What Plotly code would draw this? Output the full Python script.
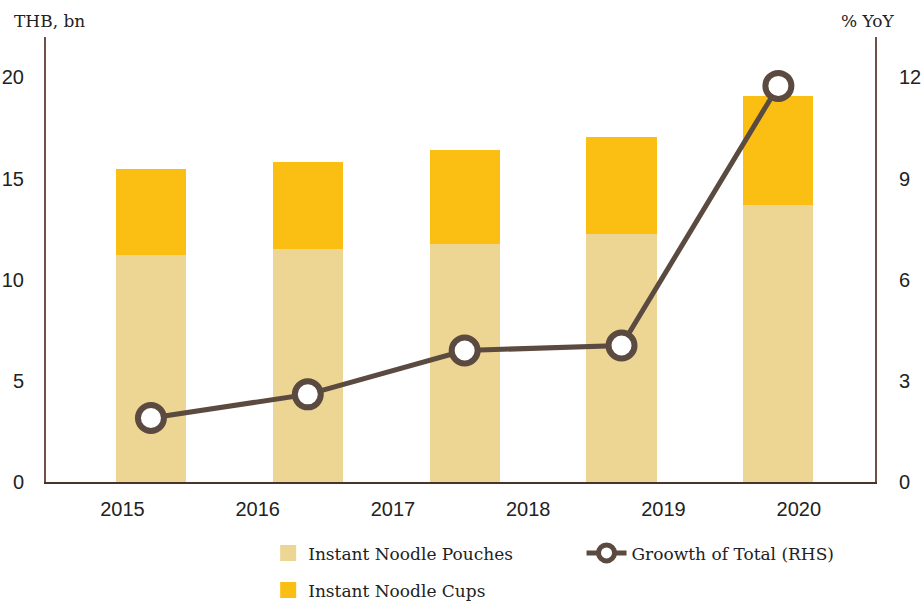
import numpy as np
import plotly.graph_objects as go

# Tick labels along the bottom axis
year_labels = ["2015", "2016", "2017", "2018", "2019", "2020"]

# Stacked bar values (THB, bn)
pouches = [11.2, 11.5, 11.75, 12.25, 13.7]
cups = [4.25, 4.3, 4.65, 4.8, 5.4]

# Growth of total, % YoY (right axis)
growth = [1.9, 2.6, 3.9, 4.05, 11.75]

POUCH_COLOR = "#EDD593"
CUP_COLOR = "#FBBE13"
LINE_COLOR = "#5B4A40"
AXIS_COLOR = "#6F5044"
BASE_COLOR = "#4A3328"

SANS = "Liberation Sans Narrow, Arial Narrow, Liberation Sans, Arial, sans-serif"
SERIF = "DejaVu Serif, serif"

bar_pos = np.arange(len(pouches))
x_range = [-0.669, 4.616]
# year labels sit on an evenly spaced grid across the axis
tick_pos = np.linspace(-0.182, 4.13, len(year_labels))

fig = go.Figure()
fig.add_trace(go.Bar(
    x=bar_pos, y=pouches, name="Instant Noodle Pouches",
    marker=dict(color=POUCH_COLOR, line=dict(width=0)), width=0.447,
    showlegend=False,
))
fig.add_trace(go.Bar(
    x=bar_pos, y=cups, name="Instant Noodle Cups",
    marker=dict(color=CUP_COLOR, line=dict(width=0)), width=0.447,
    showlegend=False,
))
fig.add_trace(go.Scatter(
    x=bar_pos, y=growth, name="Groowth of Total (RHS)", yaxis="y2",
    mode="lines+markers",
    line=dict(color=LINE_COLOR, width=5),
    marker=dict(size=26, color="white", line=dict(color=LINE_COLOR, width=6)),
    legend="legend2",
))

# larger square swatches for the bar series in the legend
for name, color in [("Instant Noodle Pouches", POUCH_COLOR), ("Instant Noodle Cups", CUP_COLOR)]:
    fig.add_trace(go.Scatter(
        x=[None], y=[None], mode="markers", name=name,
        marker=dict(symbol="square", size=16, color=color),
        legend="legend", legendgroup=name,
    ))

tick_font = dict(family=SANS, size=20, color="#222222")
label_font = dict(family=SERIF, size=17, color="#222222")

fig.update_layout(
    width=921, height=602,
    margin=dict(l=46, r=46, t=37, b=120, autoexpand=False),
    paper_bgcolor="white", plot_bgcolor="white",
    barmode="stack", bargap=0,
    showlegend=True,
    font=tick_font,
    xaxis=dict(
        range=x_range, tickmode="array", tickvals=tick_pos, ticktext=year_labels,
        showgrid=False, zeroline=False, automargin=False,
        showline=True, linecolor=BASE_COLOR, linewidth=2,
        ticks="outside", ticklen=8, tickcolor="rgba(0,0,0,0)",
        tickfont=tick_font,
    ),
    yaxis=dict(
        range=[0, 22], tickvals=[0, 5, 10, 15, 20],
        showgrid=False, zeroline=False, automargin=False,
        showline=True, linecolor=AXIS_COLOR, linewidth=2,
        ticks="outside", ticklen=16, tickcolor="rgba(0,0,0,0)",
        tickfont=tick_font,
    ),
    yaxis2=dict(
        range=[0, 13.2], tickvals=[0, 3, 6, 9, 12], overlaying="y", side="right",
        showgrid=False, zeroline=False, automargin=False,
        showline=True, linecolor=AXIS_COLOR, linewidth=2,
        ticks="outside", ticklen=18, tickcolor="rgba(0,0,0,0)",
        tickfont=tick_font,
    ),
    legend=dict(
        x=0.268, y=-0.12, xanchor="left", yanchor="top",
        orientation="v", traceorder="grouped", tracegroupgap=12,
        itemsizing="trace",
        font=label_font, bgcolor="rgba(0,0,0,0)",
    ),
    legend2=dict(
        x=0.646, y=-0.12, xanchor="left", yanchor="top",
        orientation="v", itemwidth=40,
        font=label_font, bgcolor="rgba(0,0,0,0)",
    ),
    annotations=[
        dict(text="THB, bn", xref="paper", yref="paper", x=-0.041, y=1.0,
             xanchor="left", yanchor="bottom", yshift=4, showarrow=False,
             font=label_font),
        dict(text="% YoY", xref="paper", yref="paper", x=1.027, y=1.0,
             xanchor="right", yanchor="bottom", yshift=4, showarrow=False,
             font=label_font),
    ],
)

fig.write_html("out.html")
